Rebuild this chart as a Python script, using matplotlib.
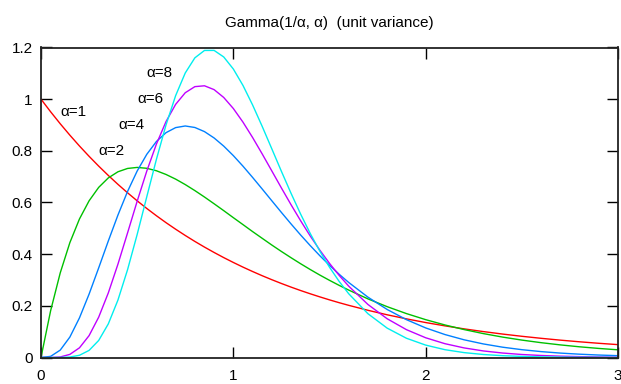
import matplotlib
matplotlib.use("Agg")
import matplotlib.pyplot as plt

x = [0.0, 0.05, 0.1, 0.15, 0.2, 0.25, 0.3, 0.35, 0.4, 0.45, 0.5, 0.55, 0.6, 0.65, 0.7, 0.75,
     0.8, 0.85, 0.9, 0.95, 1.0, 1.05, 1.1, 1.15, 1.2, 1.25, 1.3, 1.35, 1.4, 1.45, 1.5, 1.55,
     1.6, 1.7, 1.8, 1.9, 2.0, 2.1, 2.2, 2.3, 2.4, 2.5, 2.6, 2.7, 2.8, 2.9, 3.0]

alpha1 = [1.0, 0.9512, 0.9048, 0.8607, 0.8187, 0.7788, 0.7408, 0.7047, 0.6703, 0.6376, 0.6065,
          0.5769, 0.5488, 0.5220, 0.4966, 0.4724, 0.4493, 0.4274, 0.4066, 0.3867, 0.3679,
          0.3499, 0.3329, 0.3166, 0.3012, 0.2865, 0.2725, 0.2592, 0.2466, 0.2346, 0.2231,
          0.2122, 0.2019, 0.1827, 0.1653, 0.1496, 0.1353, 0.1225, 0.1108, 0.1003, 0.0907,
          0.0821, 0.0743, 0.0672, 0.0608, 0.0550, 0.0498]
alpha2 = [0.0, 0.1810, 0.3275, 0.4445, 0.5363, 0.6065, 0.6586, 0.6952, 0.7189, 0.7318, 0.7358,
          0.7324, 0.7229, 0.7085, 0.6905, 0.6694, 0.6461, 0.6212, 0.5951, 0.5685, 0.5413,
          0.5145, 0.4875, 0.4614, 0.4354, 0.4104, 0.3863, 0.3629, 0.3405, 0.3190, 0.2987,
          0.2793, 0.2609, 0.2269, 0.1967, 0.1700, 0.1465, 0.1260, 0.1081, 0.0925, 0.0790,
          0.0674, 0.0574, 0.0488, 0.0414, 0.0351, 0.0297]
alpha4 = [0.0, 0.0044, 0.0286, 0.0790, 0.1534, 0.2453, 0.3470, 0.4511, 0.5513, 0.6427, 0.7218,
          0.7865, 0.8361, 0.8703, 0.8899, 0.8962, 0.8904, 0.8744, 0.8498, 0.8183, 0.7815,
          0.7407, 0.6972, 0.6523, 0.6068, 0.5615, 0.5171, 0.4741, 0.4330, 0.3938, 0.3569,
          0.3224, 0.2904, 0.2335, 0.1858, 0.1465, 0.1145, 0.0889, 0.0685, 0.0525, 0.0399,
          0.0303, 0.0228, 0.0171, 0.0128, 0.0095, 0.0071]
alpha6 = [0.0, 0.0001, 0.0021, 0.0120, 0.0375, 0.0847, 0.1562, 0.2501, 0.3612, 0.4822, 0.6049,
          0.7217, 0.8260, 0.9132, 0.9799, 1.0249, 1.0485, 1.0518, 1.0369, 1.0066, 0.9638,
          0.9112, 0.8518, 0.7881, 0.7223, 0.6562, 0.5915, 0.5292, 0.4702, 0.4152, 0.3644,
          0.3180, 0.2761, 0.2052, 0.1499, 0.1078, 0.0764, 0.0535, 0.0371, 0.0254, 0.0173,
          0.0116, 0.0078, 0.0051, 0.0034, 0.0022, 0.0014]
alpha8 = [0.0, 0.0, 0.0002, 0.0017, 0.0086, 0.0275, 0.0660, 0.1302, 0.2223, 0.3398, 0.4763,
          0.6222, 0.7669, 0.9002, 1.0137, 1.1014, 1.1600, 1.1886, 1.1887, 1.1634, 1.1167,
          1.0533, 0.9778, 0.8947, 0.8079, 0.7206, 0.6357, 0.5549, 0.4798, 0.4112, 0.3495,
          0.2947, 0.2467, 0.1694, 0.1136, 0.0745, 0.0480, 0.0303, 0.0189, 0.0116, 0.0070,
          0.0042, 0.0025, 0.0015, 0.0008, 0.0005, 0.0003]

series = [alpha1, alpha2, alpha4, alpha6, alpha8]
colors = ["#ff0000", "#00c000", "#0080ff", "#c000ff", "#00eeee"]
labels = ["\u03b1=1", "\u03b1=2", "\u03b1=4", "\u03b1=6", "\u03b1=8"]
label_x = [0.1, 0.3, 0.4, 0.5, 0.55]
label_y = [0.95, 0.8, 0.9, 1.0, 1.1]

plt.rcParams["font.family"] = ["Liberation Sans", "DejaVu Sans"]

fig = plt.figure(figsize=(6.21, 3.84), dpi=100)
ax = fig.add_axes([41 / 621, 26.5 / 384, 577 / 621, 310 / 384])

for ys, c in zip(series, colors):
    ax.plot(x, ys, color=c, lw=1.0)

for t, lx, ly in zip(labels, label_x, label_y):
    ax.text(lx, ly, t, fontsize=11, ha="left", va="center", color="black")

ax.set_xlim(0, 3)
ax.set_ylim(0, 1.2)
ax.set_xticks([0, 1, 2, 3])
ax.set_xticklabels(["0", "1", "2", "3"])
ax.set_yticks([0, 0.2, 0.4, 0.6, 0.8, 1.0, 1.2])
ax.set_yticklabels(["0", "0.2", "0.4", "0.6", "0.8", "1", "1.2"])
ax.tick_params(direction="in", length=8, width=1, labelsize=11,
               top=True, right=True, pad=6, colors="black")
ax.tick_params(axis="x", pad=8)
for s in ax.spines.values():
    s.set_linewidth(1.3)
    s.set_color("#222222")

ax.set_title("Gamma(1/\u03b1, \u03b1)  (unit variance)", fontsize=11, pad=15)

fig.savefig("out.png", dpi=100)
